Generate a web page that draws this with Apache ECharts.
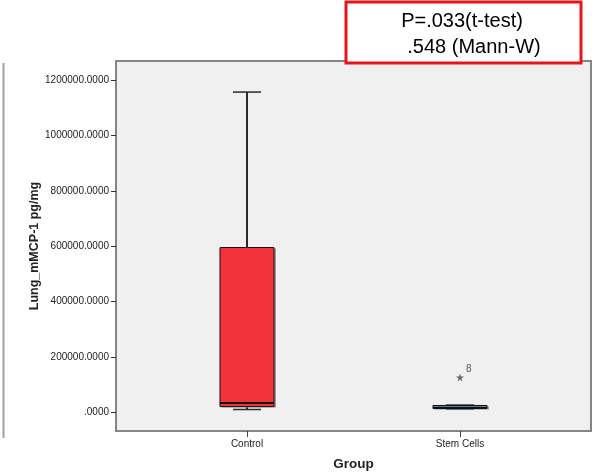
<!DOCTYPE html>
<html>
<head>
<meta charset="utf-8">
<script src="https://cdn.jsdelivr.net/npm/echarts@6/dist/echarts.min.js"></script>
<style>
html,body{margin:0;padding:0;background:#fff;}
#c{width:594px;height:476px;}
</style>
</head>
<body>
<div id="c"></div>
<script>
// Data
var categories = ['Control', 'Stem Cells'];
// [min, Q1, median, Q3, max]
var boxValues = [
  [11500, 22000, 35000, 595500, 1156000],
  [13000, 15000, 16500, 26000, 27500]
];
var boxColors = ['#f2333b', '#5b7a99'];
var outliers = [[1, 127000]];
var outlierLabels = ['8'];
var yTickValues = [0, 200000, 400000, 600000, 800000, 1000000, 1200000];
var yTickLabels = ['.0000', '200000.0000', '400000.0000', '600000.0000', '800000.0000', '1000000.0000', '1200000.0000'];
var annotationLines = ['P=.033(t-test)', '.548 (Mann-W)'];

var chart = echarts.init(document.getElementById('c'), null, {renderer: 'canvas'});

var boxData = boxValues.map(function (v, i) { return [i].concat(v); });

var option = {
  animation: false,
  backgroundColor: '#ffffff',
  grid: {
    left: 116, right: 3, top: 61, bottom: 42,
    show: true, backgroundColor: '#f0f0f0', borderColor: '#858585', borderWidth: 2
  },
  xAxis: {
    type: 'value', min: -0.615, max: 1.615,
    name: 'Group', nameLocation: 'middle', nameGap: 26, nameMoveOverlap: false,
    nameTextStyle: {fontFamily: 'Liberation Sans', fontWeight: 'bold', fontSize: 13.5, color: '#222'},
    axisLine: {show: true, onZero: false, lineStyle: {color: '#858585', width: 2}},
    splitLine: {show: false},
    axisTick: {show: true, length: 6, customValues: [0, 1], lineStyle: {color: '#444', width: 1}},
    axisLabel: {
      customValues: [0, 1], margin: 8,
      fontFamily: 'Liberation Sans', fontSize: 10, color: '#222',
      formatter: function (v) { return categories[Math.round(v)]; }
    }
  },
  yAxis: {
    type: 'value', min: -66000, max: 1268000,
    name: 'Lung_mMCP-1 pg/mg', nameLocation: 'middle', nameGap: 75, nameMoveOverlap: false,
    nameTextStyle: {fontFamily: 'Liberation Sans', fontWeight: 'bold', fontSize: 12.5, color: '#222'},
    axisLine: {show: false, onZero: false},
    splitLine: {show: false},
    axisTick: {show: true, length: 5, customValues: yTickValues, lineStyle: {color: '#333', width: 1}},
    axisLabel: {
      customValues: yTickValues, margin: 7,
      fontFamily: 'Liberation Sans', fontSize: 10, color: '#222',
      formatter: function (v) {
        var i = yTickValues.indexOf(v);
        return i >= 0 ? yTickLabels[i] : '';
      }
    }
  },
  series: [
    {
      type: 'custom',
      data: boxData,
      z: 3,
      renderItem: function (params, api) {
        var x = api.value(0);
        var lo = api.coord([x, api.value(1)]);
        var q1 = api.coord([x, api.value(2)]);
        var md = api.coord([x, api.value(3)]);
        var q3 = api.coord([x, api.value(4)]);
        var hi = api.coord([x, api.value(5)]);
        var bw = 54, cw = 28, cx = lo[0];
        var ws = {stroke: '#2a2a2a', lineWidth: 2};
        var cs = {stroke: '#2a2a2a', lineWidth: 1.5};
        return {
          type: 'group',
          children: [
            {type: 'line', shape: {x1: cx, y1: hi[1], x2: cx, y2: q3[1]}, style: ws},
            {type: 'line', shape: {x1: cx, y1: q1[1], x2: cx, y2: lo[1]}, style: ws},
            {type: 'line', shape: {x1: cx - cw / 2, y1: hi[1], x2: cx + cw / 2, y2: hi[1]}, style: cs},
            {type: 'line', shape: {x1: cx - cw / 2, y1: lo[1], x2: cx + cw / 2, y2: lo[1]}, style: cs},
            {type: 'rect', shape: {x: cx - bw / 2 + 2, y: q3[1] + 1, width: bw, height: q1[1] - q3[1]},
              style: {fill: '#9a9a9a', stroke: null}},
            {type: 'rect', shape: {x: cx - bw / 2, y: q3[1], width: bw, height: q1[1] - q3[1]},
              style: {fill: boxColors[params.dataIndex], stroke: '#111', lineWidth: 1}},
            {type: 'line', shape: {x1: cx - bw / 2, y1: md[1], x2: cx + bw / 2, y2: md[1]},
              style: {stroke: '#111', lineWidth: 2}}
          ]
        };
      }
    },
    {
      type: 'scatter',
      data: outliers,
      z: 4,
      symbol: 'path://M50,0 L61,35 L98,35 L68,57 L79,91 L50,70 L21,91 L32,57 L2,35 L39,35 Z',
      symbolSize: 8,
      itemStyle: {color: '#444'},
      label: {
        show: true, position: 'right', distance: 2, offset: [0, -8],
        fontFamily: 'Liberation Sans', fontSize: 10, color: '#333',
        formatter: function (p) { return outlierLabels[p.dataIndex]; }
      }
    }
  ],
  graphic: [
    {type: 'line', shape: {x1: 3.5, y1: 63, x2: 3.5, y2: 438}, style: {stroke: '#a0a0a0', lineWidth: 2}, z: 10},
    {type: 'rect', shape: {x: 346, y: 2, width: 235, height: 61},
      style: {fill: '#ffffff', stroke: '#e8141c', lineWidth: 3}, z: 20},
    {type: 'text', x: 462, y: 21, z: 21,
      style: {text: annotationLines[0], fontFamily: 'Liberation Sans', fontSize: 20, fill: '#000',
        align: 'center', verticalAlign: 'middle'}},
    {type: 'text', x: 474, y: 47, z: 21,
      style: {text: annotationLines[1], fontFamily: 'Liberation Sans', fontSize: 20, fill: '#000',
        align: 'center', verticalAlign: 'middle'}}
  ]
};

chart.setOption(option);
</script>
</body>
</html>
